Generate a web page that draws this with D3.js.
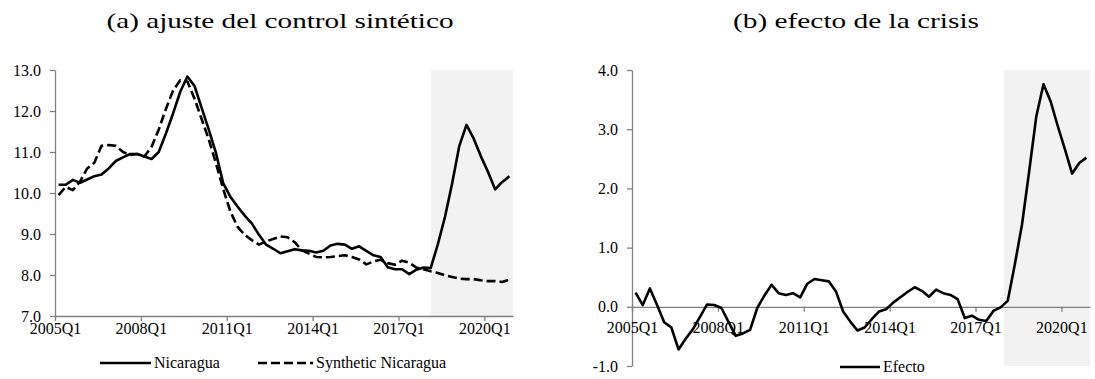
<!DOCTYPE html>
<html>
<head>
<meta charset="utf-8">
<script src="https://cdn.jsdelivr.net/npm/d3@7"></script>
<style>
body { margin: 0; background: #fff; }
</style>
</head>
<body>
<div id="chart"></div>
<script>
// quarters 2005Q1 .. 2020Q4
var quarters = [];
d3.range(2005, 2021).forEach(function (yr) {
    [1, 2, 3, 4].forEach(function (q) { quarters.push(yr + "Q" + q); });
});
var tickLabels = ["2005Q1", "2008Q1", "2011Q1", "2014Q1", "2017Q1", "2020Q1"];
var crisisStart = "2018Q1";

var nicaragua = [10.20, 10.20, 10.32, 10.25, 10.33, 10.41, 10.45, 10.60, 10.78, 10.87,
    10.95, 10.95, 10.89, 10.83, 11.00, 11.45, 11.94, 12.47, 12.84, 12.61,
    12.07, 11.54, 10.97, 10.24, 9.91, 9.67, 9.45, 9.26, 8.98, 8.74,
    8.64, 8.53, 8.58, 8.63, 8.60, 8.59, 8.55, 8.59, 8.72, 8.76,
    8.74, 8.64, 8.70, 8.59, 8.48, 8.44, 8.19, 8.14, 8.14, 8.02,
    8.13, 8.18, 8.17, 8.75, 9.42, 10.24, 11.15, 11.66, 11.33, 10.90,
    10.52, 10.09, 10.27, 10.41];

var synthetic = [9.95, 10.15, 10.07, 10.28, 10.60, 10.74, 11.15, 11.17, 11.15, 11.00,
    10.93, 10.95, 10.89, 11.13, 11.55, 12.05, 12.50, 12.75, 12.72, 12.30,
    11.80, 11.30, 10.72, 10.10, 9.55, 9.18, 8.98, 8.85, 8.74, 8.82,
    8.88, 8.94, 8.92, 8.80, 8.60, 8.52, 8.44, 8.43, 8.44, 8.46,
    8.48, 8.44, 8.38, 8.26, 8.33, 8.37, 8.29, 8.25, 8.35, 8.30,
    8.18, 8.14, 8.09, 8.05, 7.99, 7.95, 7.91, 7.90, 7.90, 7.87,
    7.85, 7.85, 7.83, 7.89];

var efecto = [0.24, 0.03, 0.31, 0.03, -0.26, -0.35, -0.72, -0.54, -0.38, -0.17,
    0.04, 0.03, -0.02, -0.26, -0.49, -0.45, -0.39, -0.02, 0.19, 0.37,
    0.23, 0.20, 0.23, 0.16, 0.39, 0.47, 0.45, 0.43, 0.26, -0.08,
    -0.25, -0.40, -0.35, -0.21, -0.08, -0.04, 0.07, 0.16, 0.25, 0.33,
    0.27, 0.17, 0.29, 0.23, 0.20, 0.13, -0.19, -0.15, -0.22, -0.24,
    -0.07, -0.01, 0.10, 0.72, 1.39, 2.29, 3.22, 3.76, 3.47, 3.05,
    2.66, 2.25, 2.43, 2.52];

var leftTicks = [7, 8, 9, 10, 11, 12, 13];
var rightTicks = [-1, 0, 1, 2, 3, 4];

var width = 1095, height = 379;
var axisColor = "#808080", shadeColor = "#f2f2f2";
var serif = "'Liberation Serif', 'DejaVu Serif', serif";
var fmt = function (d) { return d.toFixed(1); };

var svg = d3.select("#chart").append("svg")
    .attr("width", width)
    .attr("height", height)
    .style("font-family", serif);

svg.append("rect").attr("width", width).attr("height", height).attr("fill", "#fff");

var tickIdx = tickLabels.map(function (l) { return quarters.indexOf(l); });
var crisisIdx = quarters.indexOf(crisisStart);

function styleAxis(g) {
    g.attr("font-family", null).attr("font-size", null);
    g.select(".domain").attr("stroke", axisColor).attr("stroke-width", 1.3);
    g.selectAll(".tick line").attr("stroke", axisColor).attr("stroke-width", 1.3);
    g.selectAll(".tick text")
        .style("font-family", serif)
        .style("font-size", "16px")
        .attr("fill", "#000");
}

function panel(opts) {
    var x = d3.scaleLinear().domain([0, quarters.length]).range([opts.left, opts.right]);
    var y = d3.scaleLinear().domain(opts.yDomain).range([opts.bottom, opts.top]);
    var g = svg.append("g");

    // crisis shading
    g.append("rect")
        .attr("x", x(crisisIdx + opts.shadeOffset))
        .attr("y", y(opts.yDomain[1]))
        .attr("width", x(quarters.length) - x(crisisIdx + opts.shadeOffset))
        .attr("height", y(opts.yDomain[0]) - y(opts.yDomain[1]))
        .attr("fill", shadeColor);

    var yAxis = g.append("g")
        .attr("transform", "translate(" + opts.left + ",0)")
        .call(d3.axisLeft(y).tickValues(opts.yTicks).tickFormat(fmt)
            .tickSize(5).tickSizeOuter(0).tickPadding(9));
    styleAxis(yAxis);

    var xAxis = g.append("g")
        .attr("transform", "translate(0," + y(opts.xAt) + ")")
        .call(d3.axisBottom(x).tickValues(tickIdx)
            .tickFormat(function (i) { return quarters[i]; })
            .tickSize(5).tickSizeOuter(0));
    styleAxis(xAxis);
    xAxis.selectAll(".tick text").attr("y", opts.labelOffset).attr("dy", null);

    var line = d3.line()
        .x(function (d, i) { return x(i + 0.5); })
        .y(function (d) { return y(d); });

    opts.series.forEach(function (s) {
        g.append("path")
            .datum(s.values)
            .attr("fill", "none")
            .attr("stroke", "#000")
            .attr("stroke-width", 2.6)
            .attr("stroke-linejoin", "round")
            .attr("stroke-dasharray", s.dash || null)
            .attr("d", line);
    });

    // title
    svg.append("text")
        .attr("x", opts.titleX)
        .attr("y", 28)
        .attr("text-anchor", "middle")
        .style("font-family", serif)
        .style("font-size", "22px")
        .attr("textLength", opts.titleLen)
        .attr("lengthAdjust", "spacingAndGlyphs")
        .text(opts.title);

    // legend
    var lg = svg.append("g");
    opts.series.forEach(function (s) {
        lg.append("line")
            .attr("x1", s.lx).attr("x2", s.lx + s.lw)
            .attr("y1", opts.legendY).attr("y2", opts.legendY)
            .attr("stroke", "#000").attr("stroke-width", 2.6)
            .attr("stroke-dasharray", s.dash || null);
        lg.append("text")
            .attr("x", s.lx + s.lw + 3)
            .attr("y", opts.legendY + 5)
            .style("font-family", serif)
            .style("font-size", "16px")
            .text(s.name);
    });
}

panel({
    left: 55, right: 513, top: 70, bottom: 316,
    yDomain: [7, 13], yTicks: leftTicks, xAt: 7, shadeOffset: 0.5, labelOffset: 18,
    title: "(a) ajuste del control sintético", titleX: 280, titleLen: 347,
    legendY: 363,
    series: [
        { name: "Nicaragua", values: nicaragua, lx: 100, lw: 51 },
        { name: "Synthetic Nicaragua", values: synthetic, dash: "9,4", lx: 258, lw: 55 }
    ]
});

panel({
    left: 632, right: 1090, top: 70, bottom: 366,
    yDomain: [-1, 4], yTicks: rightTicks, xAt: 0, shadeOffset: 0, labelOffset: 26,
    title: "(b) efecto de la crisis", titleX: 856, titleLen: 246,
    legendY: 367,
    series: [
        { name: "Efecto", values: efecto, lx: 840, lw: 40 }
    ]
});
</script>
</body>
</html>
